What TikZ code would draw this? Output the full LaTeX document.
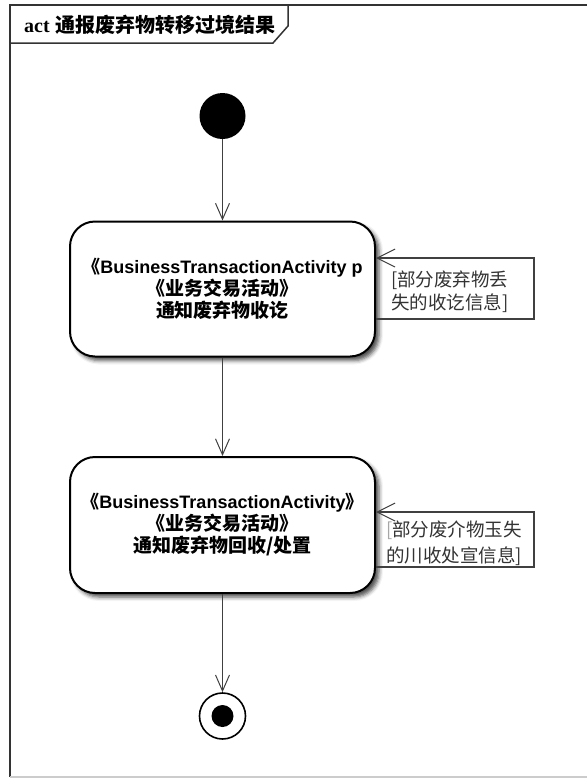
\documentclass[tikz,border=0pt]{standalone}
\usepackage{fontspec}
\setmainfont{Liberation Sans}
\newfontfamily\cjk{Noto Sans CJK SC}
\newfontfamily\serifl{Liberation Serif}
\usetikzlibrary{arrows.meta,shadows.blur}
\tikzset{
  frameline/.style={draw=black!80,line width=2pt},
  flow/.style={draw=black!75,line width=1pt,-{Straight Barb[length=16pt,width=14pt,line width=1pt]}},
  loopflow/.style={draw=black!75,line width=1.2pt,-{Straight Barb[length=18pt,width=18pt,line width=1pt]}},
  action/.style={draw=black,line width=2pt,rounded corners=25pt,fill=white,
    minimum width=305pt,minimum height=135pt,align=center,inner sep=0pt,
    blur shadow={shadow xshift=4pt,shadow yshift=-4pt,shadow blur radius=4pt,shadow opacity=70},
    font=\fontsize{18}{22}\selectfont\bfseries},
  guard/.style={align=left,anchor=north west,inner sep=0pt,text=black!80,
    font=\cjk\fontsize{18.5}{23}\selectfont}
}
\begin{document}
\begin{tikzpicture}[x=1pt,y=-1pt]
\useasboundingbox (0,0) rectangle (587,780);
% frame
\draw[frameline] (587,5) -- (10,5) -- (10,777);
\draw[draw=black!20,line width=1.5pt] (10,777) -- (587,777);
\draw[frameline,line width=1.5pt] (10,43) -- (273,43) -- (288,26) -- (288,5);
\node[anchor=west,inner sep=0pt] (title) at (24,25)
  {\fontsize{20}{22}\selectfont{\serifl\bfseries act} {\cjk\bfseries 通报废弃物转移过境结果}};
% initial
\node[circle,fill=black,minimum size=46pt,inner sep=0pt] (init) at (222.5,116) {};
% actions
\node[action] (a1) at (222.5,289)
  {{\cjk\bfseries 《}BusinessTransactionActivity p\\
   {\cjk\fontsize{19}{22}\selectfont\bfseries 《业务交易活动》}\\
   {\cjk\fontsize{19}{22}\selectfont\bfseries 通知废弃物收讫}};
\node[action,minimum height=136pt] (a2) at (222.5,525)
  {{\cjk\bfseries 《}BusinessTransactionActivity{\cjk\bfseries 》}\\
   {\cjk\fontsize{19}{22}\selectfont\bfseries 《业务交易活动》}\\
   {\cjk\fontsize{19}{22}\selectfont\bfseries 通知废弃物回收/处置}};
% final
\node[circle,draw=black,line width=1.6pt,minimum size=46pt,inner sep=0pt] (fin) at (222.5,716) {};
\node[circle,fill=black,minimum size=22pt,inner sep=0pt] (finc) at (fin.center) {};
% flows
\draw[flow] (init.south) -- (a1.north);
\draw[flow] (a1.south) -- (a2.north);
\draw[flow] (a2.south) -- (fin.north);
% self loops
\coordinate (l1t) at (534,258);
\coordinate (l1b) at (534,319);
\draw[loopflow] (a1.east |- l1b) -- (l1b) -- (l1t) -- (a1.east |- l1t);
\node[guard] (g1) at (391,271) {[部分废弃物丢\\失的收讫信息]};
\coordinate (l2t) at (534,512);
\coordinate (l2b) at (534,567);
\draw[loopflow] (a2.east |- l2b) -- (l2b) -- (l2t) -- (a2.east |- l2t);
\node[guard,font=\cjk\fontsize{18.5}{26}\selectfont] (g2) at (386,521) {{\color{black!35}[}部分废介物玉失\\的川收处宣信息]};
\end{tikzpicture}
\end{document}
